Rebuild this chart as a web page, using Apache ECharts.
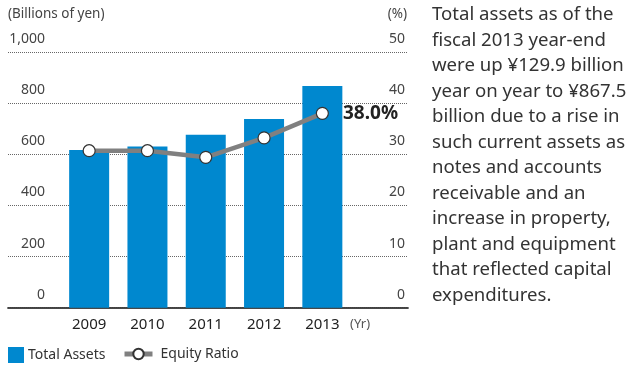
<!DOCTYPE html>
<html>
<head>
<meta charset="utf-8">
<script src="https://cdn.jsdelivr.net/npm/echarts@6/dist/echarts.min.js"></script>
<style>
  html, body { margin: 0; padding: 0; background: #fff; }
  #chart { width: 634px; height: 370px; }
</style>
</head>
<body>
<div id="chart"></div>
<script>
// Fiscal years shown on the category axis
const years = ['2009', '2010', '2011', '2012', '2013'];
// Total assets, billions of yen
const totalAssets = [617, 630, 676, 737.6, 867.5];
// Equity ratio, percent
const equityRatio = [30.7, 30.7, 29.4, 33.2, 38.0];
// Axis scales
const assetsTicks = { min: 0, max: 1000, interval: 200 };
const ratioTicks = { min: 0, max: 50, interval: 10 };
// Commentary beside the chart
const noteLines = [
  'Total assets as of the',
  'fiscal 2013 year-end',
  'were up ¥129.9 billion',
  'year on year to ¥867.5',
  'billion due to a rise in',
  'such current assets as',
  'notes and accounts',
  'receivable and an',
  'increase in property,',
  'plant and equipment',
  'that reflected capital',
  'expenditures.'
];

const FONT = '"Noto Sans", "Open Sans", sans-serif';
const BLUE = '#0088cf';
const GRAY = '#808080';

const chart = echarts.init(document.getElementById('chart'));

const plotTop = 52;
const plotBottom = 62.3;

chart.setOption({
  animation: false,
  textStyle: { fontFamily: FONT },
  grid: [
    // full-width frame carrying the gridlines and tick labels
    { left: 8, right: 226, top: plotTop, bottom: plotBottom },
    // narrower frame holding the bars and the ratio line
    { left: 60, width: 291.5, top: plotTop, bottom: plotBottom }
  ],
  xAxis: [
    { gridIndex: 0, type: 'value', position: 'bottom', min: 0, max: 1,
      axisLine: { show: true, lineStyle: { color: '#666', width: 1.5 } },
      axisTick: { show: false }, axisLabel: { show: false }, splitLine: { show: false } },
    { gridIndex: 0, type: 'value', position: 'top', min: 0, max: 1,
      axisLine: { show: true, lineStyle: { color: '#333', width: 1.5 } },
      axisTick: { show: false }, axisLabel: { show: false }, splitLine: { show: false } },
    { gridIndex: 1, type: 'category', data: years,
      axisLine: { show: false }, axisTick: { show: false },
      axisLabel: { margin: 10, fontSize: 15, color: '#222', fontFamily: FONT } }
  ],
  yAxis: [
    { gridIndex: 0, type: 'value', position: 'left', ...assetsTicks,
      axisLine: { show: false }, axisTick: { show: false },
      axisLabel: { inside: true, align: 'right', margin: 37, verticalAlign: 'bottom',
        padding: [0, 0, 6, 0], fontSize: 14, color: '#444',
        formatter: v => v.toLocaleString('en-US') },
      splitLine: { show: true, lineStyle: { type: 'dotted', color: '#666', width: 1 } } },
    { gridIndex: 0, type: 'value', position: 'right', ...ratioTicks,
      axisLine: { show: false }, axisTick: { show: false },
      axisLabel: { inside: true, margin: 3, verticalAlign: 'bottom',
        padding: [0, 0, 6, 0], fontSize: 14, color: '#444' },
      splitLine: { show: false } },
    { gridIndex: 1, type: 'value', ...assetsTicks, show: false, splitLine: { show: false } },
    { gridIndex: 1, type: 'value', ...ratioTicks, show: false, splitLine: { show: false } }
  ],
  legend: [
    { data: [{ name: 'Total Assets', icon: 'rect' }], left: 8, top: 347, padding: 0,
      itemWidth: 16, itemHeight: 16,
      textStyle: { fontSize: 14, color: '#333', fontFamily: FONT, padding: [0, 0, 0, -1] } },
    { data: ['Equity Ratio'], left: 122, top: 347, padding: 0, itemWidth: 28, itemHeight: 13,
      lineStyle: { width: 5, color: GRAY },
      textStyle: { fontSize: 14, color: '#333', fontFamily: FONT, padding: [0, 0, 0, 3] } }
  ],
  series: [
    { name: 'Total Assets', type: 'bar', xAxisIndex: 2, yAxisIndex: 2,
      data: totalAssets, barWidth: 40, itemStyle: { color: BLUE } },
    { name: 'Equity Ratio', type: 'line', xAxisIndex: 2, yAxisIndex: 3,
      data: equityRatio.map((v, i) => i === equityRatio.length - 1
        ? { value: v, label: { show: true, position: 'right', distance: 14,
            formatter: p => p.value.toFixed(1) + '%',
            fontSize: 19, fontWeight: 'bold', color: '#222', fontFamily: FONT } }
        : v),
      symbol: 'circle', symbolSize: 12,
      lineStyle: { color: GRAY, width: 4.5 },
      itemStyle: { color: '#fff', borderColor: '#333', borderWidth: 1.2 },
      z: 5 }
  ],
  graphic: [
    // axis units
    { type: 'text', left: 8, top: 7,
      style: { text: '(Billions of yen)', fontSize: 13.5, fill: '#444', fontFamily: FONT } },
    { type: 'text', right: 227, top: 7,
      style: { text: '(%)', fontSize: 13.5, fill: '#444', fontFamily: FONT } },
    { type: 'text', left: 350, top: 318,
      style: { text: '(Yr)', fontSize: 13, fill: '#555', fontFamily: FONT } },
    // commentary
    { type: 'text', left: 432, top: 2,
      style: { text: noteLines.join('\n'), fontSize: 18.6, lineHeight: 25.5,
        fill: '#333', fontFamily: FONT } }
  ]
});
</script>
</body>
</html>
